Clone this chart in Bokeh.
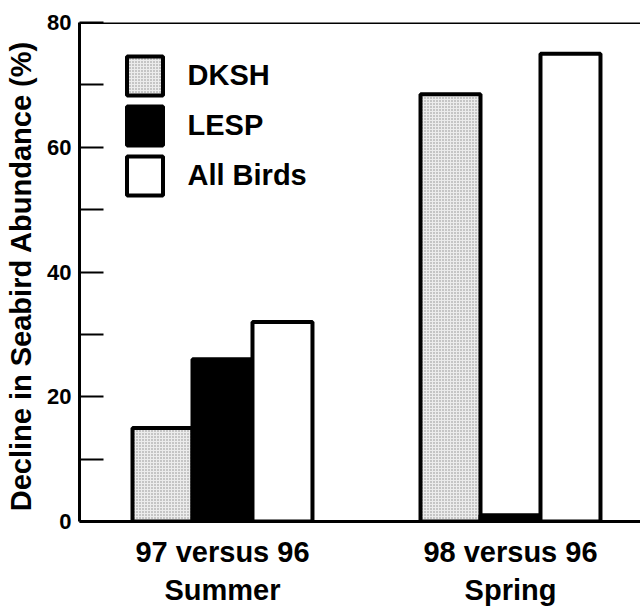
from bokeh.plotting import figure
from bokeh.models import Range1d, FixedTicker, Span, Legend, LegendItem
from bokeh.embed import file_html
from bokeh.resources import INLINE

# ---- data ----
group_labels = ["97 versus 96\nSummer", "98 versus 96\nSpring"]
group_pos = [1, 2]
series_names = ["DKSH", "LESP", "All Birds"]
dksh = [15, 68.5]
lesp = [26, 1]
all_birds = [32, 75]
y_major_ticks = [0, 20, 40, 60, 80]
y_minor_ticks = [10, 30, 50, 70]

FONT = "Liberation Sans"

p = figure(width=640, height=608, output_backend="svg", toolbar_location=None,
           x_range=Range1d(0.5035, 2.4514), y_range=Range1d(0, 80),
           min_border_left=79, min_border_right=0, min_border_top=22,
           min_border_bottom=85)
p.outline_line_color = None
p.xgrid.visible = False
p.ygrid.visible = False
p.background_fill_color = "white"

bar_w = 0.2083
offsets = [-bar_w, 0, bar_w]
fills = ["#ececec", "#000000", "#ffffff"]
hatches = ["dot", None, None]
values = [dksh, lesp, all_birds]
renderers = []
for vals, off, fc, hp in zip(values, offsets, fills, hatches):
    kw = {}
    if hp:
        kw = dict(hatch_pattern=hp, hatch_color="#8a8a8a", hatch_scale=3, hatch_weight=1)
    r = p.vbar(x=[g + off for g in group_pos], top=vals, width=bar_w, bottom=0,
               fill_color=fc, line_color="black", line_width=4, **kw)
    renderers.append(r)

legend = Legend(items=[LegendItem(label=n, renderers=[r]) for n, r in zip(series_names, renderers)],
                location=(42.5, 321), orientation="vertical",
                glyph_width=45, glyph_height=49, spacing=1, padding=0, margin=0,
                label_standoff=21, border_line_color=None, background_fill_alpha=0,
                label_text_font=FONT, label_text_font_style="bold",
                label_text_font_size="29px", label_text_color="black")
p.add_layout(legend)

# top frame line
p.add_layout(Span(location=80, dimension="width", line_color="black", line_width=3))

# y axis
ya = p.yaxis[0]
ya.ticker = FixedTicker(ticks=y_major_ticks, minor_ticks=y_minor_ticks)
ya.axis_line_width = 3
ya.axis_line_color = "black"
ya.major_tick_in = 24
ya.major_tick_out = 0
ya.minor_tick_in = 24
ya.minor_tick_out = 0
ya.major_tick_line_width = 2
ya.minor_tick_line_width = 2
ya.major_tick_line_color = "black"
ya.minor_tick_line_color = "black"
ya.major_label_text_font = FONT
ya.major_label_text_font_style = "bold"
ya.major_label_text_font_size = "22px"
ya.major_label_text_color = "black"
ya.major_label_standoff = 8
ya.axis_label = "Decline in Seabird Abundance  (%)"
ya.axis_label_text_font = FONT
ya.axis_label_text_font_style = "bold"
ya.axis_label_text_font_size = "29px"
ya.axis_label_text_color = "black"
ya.axis_label_standoff = 7

# x axis
xa = p.xaxis[0]
xa.ticker = FixedTicker(ticks=group_pos)
xa.major_label_overrides = {g: l for g, l in zip(group_pos, group_labels)}
xa.axis_line_width = 3
xa.axis_line_color = "black"
xa.major_tick_line_color = None
xa.minor_tick_line_color = None
xa.major_label_text_font = FONT
xa.major_label_text_font_style = "bold"
xa.major_label_text_font_size = "29px"
xa.major_label_text_color = "black"
xa.major_label_standoff = 8

open("out.html", "w").write(file_html(p, INLINE))
